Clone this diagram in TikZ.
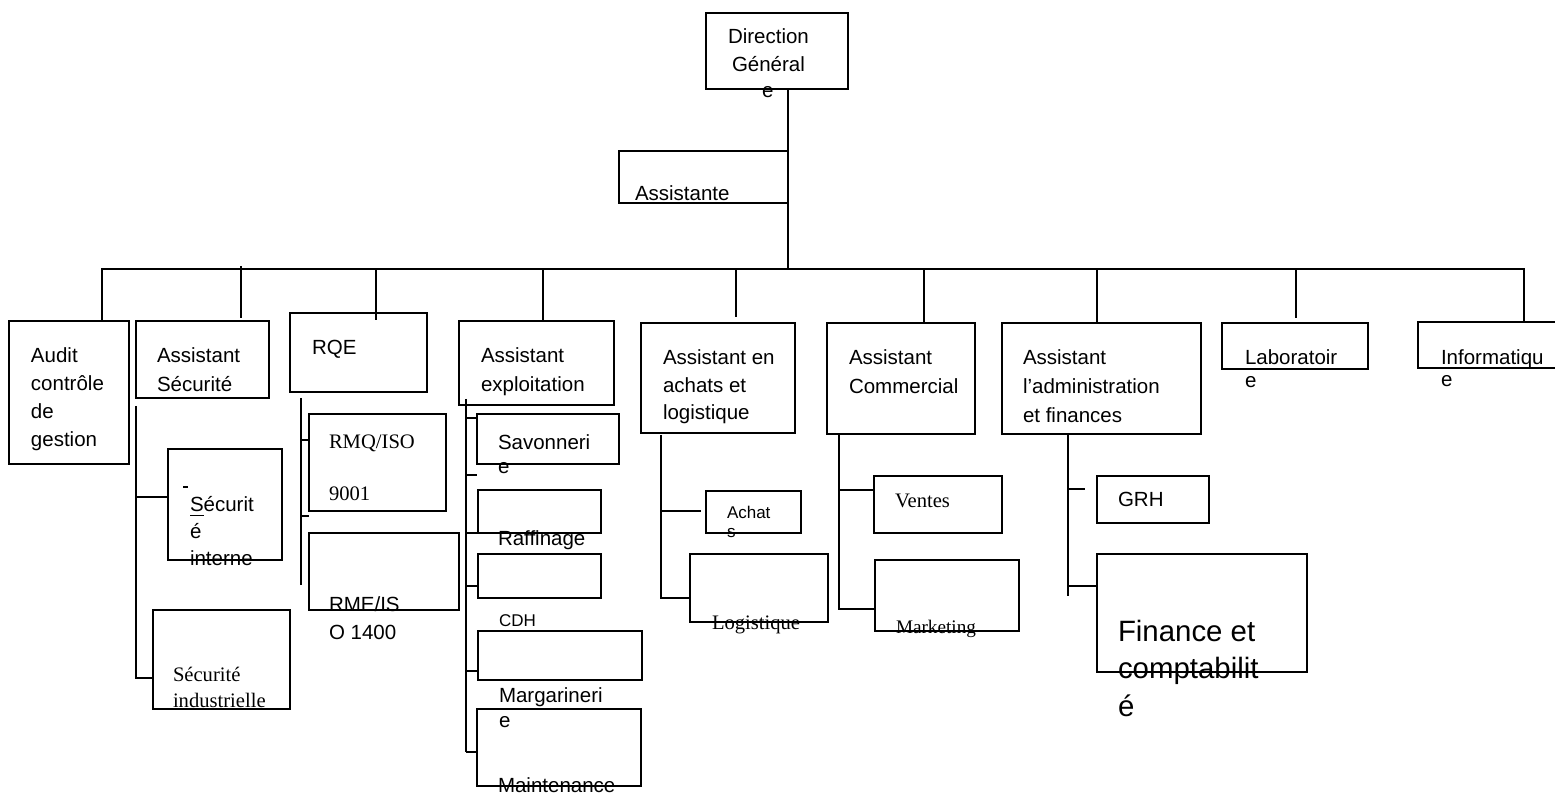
\documentclass[tikz,border=0pt]{standalone}
\usepackage{fontspec}
\setmainfont{Liberation Sans}
\newfontfamily\tnrfam{Liberation Serif}
\newcommand\fArial{\fontsize{10.25}{12}\selectfont}
\newcommand\fSmall{\fontsize{8.5}{10}\selectfont}
\newcommand\fBig{\fontsize{14.7}{17}\selectfont}
\newcommand\fTimes{\tnrfam\fontsize{10.3}{12}\selectfont}
\newcommand\fTimesSm{\tnrfam\fontsize{9.6}{11}\selectfont}
\tikzset{
  bxs/.style={draw, line width=0.8pt, inner sep=0pt, outer sep=0pt},
  tls/.style={inner sep=0pt, outer sep=0pt, anchor=base west, font=\fArial},
  wire/.style={line width=0.8pt},
}
\newcommand\bx[5]{\node[bxs, minimum width={(#4-#2)*0.5pt}, minimum height={(#5-#3)*0.5pt}] (#1) at ({(#2+#4)/2},{(#3+#5)/2}) {};}
\newcommand\tl[5][]{\node[tls,#1] (#2) at (#3,#4) {#5};}
\begin{document}
\begin{tikzpicture}[x=0.5pt,y=-0.5pt]
\useasboundingbox[fill=white] (0,0) rectangle (1555,795);
% boxes
\bx{dg}{706}{13}{848}{89}
\bx{asst}{619}{151}{788}{203}
\bx{audit}{9}{321}{129}{464}
\bx{asec}{136}{321}{269}{398}
\bx{secint}{168}{449}{282}{560}
\bx{secind}{153}{610}{290}{709}
\bx{rqe}{290}{313}{427}{392}
\bx{rmq}{309}{414}{446}{511}
\bx{rme}{309}{533}{459}{610}
\bx{aexp}{459}{321}{614}{405}
\bx{savon}{477}{414}{619}{464}
\bx{raff}{478}{490}{601}{533}
\bx{cdh}{478}{554}{601}{598}
\bx{marg}{478}{631}{642}{680}
\bx{maint}{477}{709}{641}{786}
\bx{aach}{641}{323}{795}{433}
\bx{achats}{706}{491}{801}{533}
\bx{logi}{690}{554}{828}{622}
\bx{acom}{827}{323}{975}{434}
\bx{ventes}{874}{476}{1002}{533}
\bx{market}{875}{560}{1019}{631}
\bx{aadm}{1002}{323}{1201}{434}
\bx{grh}{1097}{476}{1209}{523}
\bx{fin}{1097}{554}{1307}{672}
\bx{labo}{1222}{323}{1368}{369}
\bx{info}{1418}{322}{1570}{368}
% texts
\tl{dgA}{728}{44}{Direction}
\tl{dgB}{732}{72}{Général}
\tl{dgC}{762}{98}{e}
\tl{asstA}{635}{201}{Assistante}
\tl{auA}{31}{363}{Audit}
\tl{auB}{31}{391}{contrôle}
\tl{auC}{31}{419}{de}
\tl{auD}{31}{447}{gestion}
\tl{asA}{157}{363}{Assistant}
\tl{asB}{157}{392}{Sécurité}
\tl{siA}{190}{512}{\underline{S}écurit}
\tl{siB}{190}{539}{é}
\tl{siC}{190}{566}{interne}
\tl[font=\fTimes]{sdA}{173}{682}{Sécurité}
\tl[font=\fTimes]{sdB}{173}{708}{industrielle}
\tl{rqA}{312}{355}{RQE}
\tl[font=\fTimes]{rmA}{329}{449}{RMQ/ISO}
\tl[font=\fTimes]{rmB}{329}{501}{9001}
\tl{reA}{329}{612}{RME/IS}
\tl{reB}{329}{640}{O 1400}
\tl{aeA}{481}{363}{Assistant}
\tl{aeB}{481}{392}{exploitation}
\tl{svA}{498}{450}{Savonneri}
\tl{svB}{498}{474}{e}
\tl{rfA}{498}{546}{Raffinage}
\tl[font=\fSmall]{cdA}{499}{627}{CDH}
\tl{mgA}{499}{703}{Margarineri}
\tl{mgB}{499}{728}{e}
\tl{mtA}{498}{793}{Maintenance}
\tl{acA}{663}{365}{Assistant en}
\tl{acB}{663}{393}{achats et}
\tl{acC}{663}{420}{logistique}
\tl[font=\fSmall]{ahA}{727}{519}{Achat}
\tl[font=\fSmall]{ahB}{727}{538}{s}
\tl[font=\fTimes]{lgA}{712}{630}{Logistique}
\tl{cmA}{849}{365}{Assistant}
\tl{cmB}{849}{394}{Commercial}
\tl[font=\fTimes]{vtA}{895}{508}{Ventes}
\tl[font=\fTimesSm]{mkA}{896}{634}{Marketing}
\tl{adA}{1023}{365}{Assistant}
\tl{adB}{1023}{394}{l’administration}
\tl{adC}{1023}{423}{et finances}
\tl{grA}{1118}{507}{GRH}
\tl[font=\fBig]{fnA}{1118}{642}{Finance et}
\tl[font=\fBig]{fnB}{1118}{679}{comptabilit}
\tl[font=\fBig]{fnC}{1118}{717}{é}
\tl{lbA}{1245}{365}{Laboratoir}
\tl{lbB}{1245}{388}{e}
\tl{ifA}{1441}{365}{Informatiqu}
\tl{ifB}{1441}{387}{e}
% small dash in Sécurité interne
\coordinate (dsh1) at (183,487); \coordinate (dsh2) at (188,487);
\draw[line width=0.7pt] (dsh1) -- (dsh2);
% connectors: top
\coordinate (bDG) at (788,269);
\draw[wire] (dg.south -| bDG) -- (bDG);
\coordinate (bL) at (102,269);
\coordinate (bR) at (1524,269);
\draw[wire] (audit.north -| bL) -- (bL) -- (bR) -- (bR |- info.north);
\coordinate (d2) at (241,266); \coordinate (e2) at (241,318);
\draw[wire] (d2) -- (e2);
\coordinate (d3) at (376,269); \coordinate (e3) at (376,320);
\draw[wire] (d3) -- (e3);
\coordinate (d4) at (543,269);
\draw[wire] (d4) -- (d4 |- aexp.north);
\coordinate (d5) at (736,269); \coordinate (e5) at (736,317);
\draw[wire] (d5) -- (e5);
\coordinate (d6) at (924,269);
\draw[wire] (d6) -- (d6 |- acom.north);
\coordinate (d7) at (1097,269);
\draw[wire] (d7) -- (d7 |- aadm.north);
\coordinate (d8) at (1296,269); \coordinate (e8) at (1296,318);
\draw[wire] (d8) -- (e8);
% Assistant Sécurité
\coordinate (s0) at (136,406); \coordinate (s1) at (136,497); \coordinate (s2) at (136,678);
\draw[wire] (s0) -- (s2) -- (s2 -| secind.west);
\draw[wire] (s1) -- (s1 -| secint.west);
% RQE
\coordinate (q0) at (301,398); \coordinate (q1) at (301,440); \coordinate (q2) at (301,516); \coordinate (q3) at (301,585);
\draw[wire] (q0) -- (q3);
\draw[wire] (q1) -- (q1 -| rmq.west);
\draw[wire] (q2) -- (q2 -| rmq.west);
% Assistant exploitation
\coordinate (x0) at (466,399);
\coordinate (t1) at (466,418); \coordinate (t2) at (466,475); \coordinate (t3) at (466,533);
\coordinate (t4) at (466,586); \coordinate (t5) at (466,671); \coordinate (t6) at (466,752);
\draw[wire] (x0) -- (t6);
\draw[wire] (t1) -- (t1 -| savon.west);
\draw[wire] (t2) -- (t2 -| savon.west);
\draw[wire] (t3) -- (t3 -| raff.west);
\draw[wire] (t4) -- (t4 -| cdh.west);
\draw[wire] (t5) -- (t5 -| marg.west);
\draw[wire] (t6) -- (t6 -| maint.west);
% Achats et logistique
\coordinate (a0) at (661,435); \coordinate (a1) at (661,511); \coordinate (a1e) at (701,511); \coordinate (a2) at (661,598);
\draw[wire] (a0) -- (a2) -- (a2 -| logi.west);
\draw[wire] (a1) -- (a1e);
% Commercial
\coordinate (c1) at (839,490); \coordinate (c2) at (839,609);
\draw[wire] (acom.south -| c1) -- (c2) -- (c2 -| market.west);
\draw[wire] (c1) -- (c1 -| ventes.west);
% Administration
\coordinate (m0) at (1068,433); \coordinate (m1) at (1068,489); \coordinate (m1e) at (1085,489);
\coordinate (m2) at (1068,586); \coordinate (m3) at (1068,596);
\draw[wire] (m0) -- (m3);
\draw[wire] (m1) -- (m1e);
\draw[wire] (m2) -- (m2 -| fin.west);
\end{tikzpicture}
\end{document}
